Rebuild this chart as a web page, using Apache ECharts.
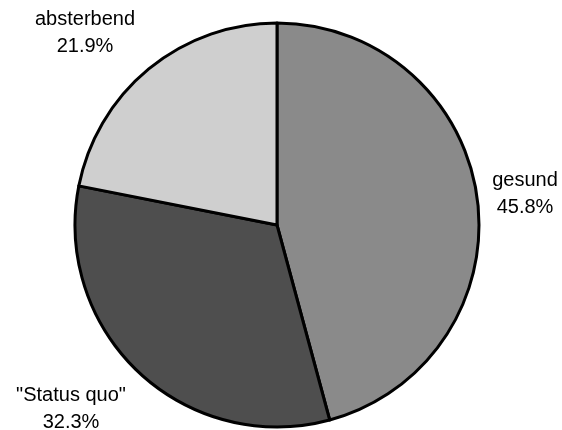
<!DOCTYPE html>
<html>
<head>
<meta charset="utf-8">
<script src="https://cdn.jsdelivr.net/npm/echarts@6/dist/echarts.min.js"></script>
<style>
  html, body { margin: 0; padding: 0; background: #fff; }
  #chart { width: 562px; height: 430px; }
</style>
</head>
<body>
<div id="chart"></div>
<script>
// Anteile je Zustand (im Uhrzeigersinn ab 12 Uhr)
const categories = ['gesund', '"Status quo"', 'absterbend']
const percents = [45.8, 32.3, 21.9]

// Graustufen wie im Raster der Vorlage
const sliceColors = ['#8a8a8a', '#4e4e4e', '#cfcfcf']
// Lage der Beschriftungen (Mitte des Textblocks)
const labelSpots = [[525, 194], [71, 409], [85, 33]]

const chart = echarts.init(document.getElementById('chart'))

const option = {
  animation: false,
  backgroundColor: '#fff',
  series: [
    {
      type: 'pie',
      center: [277, 225],
      radius: 202,
      startAngle: 90,
      clockwise: true,
      data: categories.map((name, i) => ({
        name: name,
        value: percents[i],
        itemStyle: { color: sliceColors[i] }
      })),
      itemStyle: {
        borderColor: '#000',
        borderWidth: 3
      },
      label: {
        show: true,
        position: 'outside',
        formatter: p => p.name + '\n' + p.value.toFixed(1) + '%',
        fontFamily: 'Liberation Sans, Arial, sans-serif',
        fontSize: 20,
        lineHeight: 27,
        color: '#000',
        align: 'center',
        width: 140,
        overflow: 'none'
      },
      labelLine: { show: false },
      labelLayout: params => {
        const spot = labelSpots[params.dataIndex]
        return { x: spot[0], y: spot[1], align: 'center', verticalAlign: 'middle' }
      },
      emphasis: { disabled: true }
    }
  ]
}

chart.setOption(option)
</script>
</body>
</html>
